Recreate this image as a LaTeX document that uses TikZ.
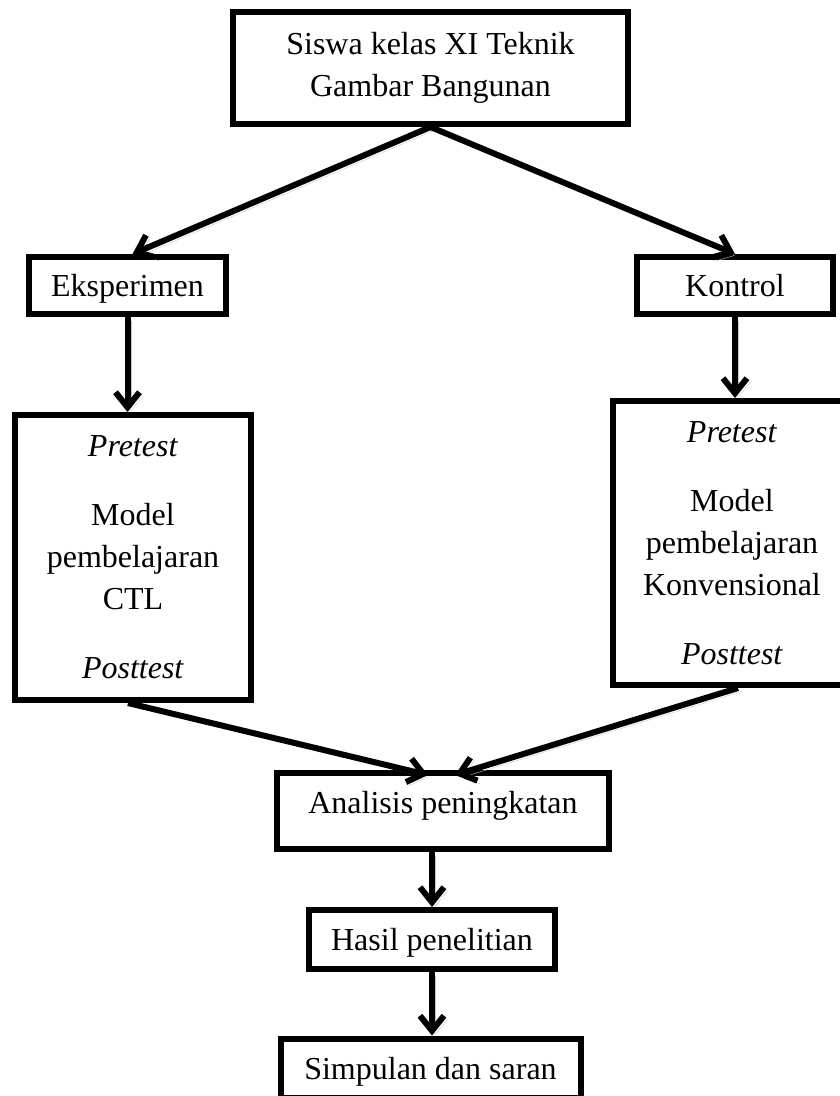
\documentclass[tikz,border=0pt]{standalone}
\usepackage{fontspec}
\setmainfont{Liberation Serif}
\usepackage{tikz}
\usetikzlibrary{arrows.meta}

\tikzset{
	kotak/.style={draw, line width=6pt, inner sep=0pt, align=center},
	satubaris/.style={kotak, text height=24pt, text depth=2pt},
	panah/.style={line width=6pt, -{Straight Barb[length=15pt,width=24pt]},
		preaction={draw=gray!45, transform canvas={shift={(3.5pt,-3.5pt)}}}},
}

\begin{document}
\begin{tikzpicture}[x=1pt, y=-1pt, font=\fontsize{32}{42}\selectfont]
	\useasboundingbox (0,0) rectangle (839,1096);
	%
	\node [kotak, minimum width=395pt, minimum height=112pt] (siswa) at (430.5,68) {Siswa kelas XI Teknik\\Gambar Bangunan};
	\node [satubaris, minimum width=197pt, minimum height=57pt] (eks) at (127.5,285.5) {Eksperimen};
	\node [satubaris, minimum width=196pt, minimum height=57pt] (kon) at (735,285.5) {Kontrol};
	\node [kotak, minimum width=236pt, minimum height=285pt] (ctl) at (133,557.5) {\textit{Pretest}\\[27pt]Model\\pembelajaran\\CTL\\[27pt]\textit{Posttest}};
	\node [kotak, minimum width=238pt, minimum height=284pt] (konv) at (732,543) {\textit{Pretest}\\[27pt]Model\\pembelajaran\\Konvensional\\[27pt]\textit{Posttest}};
	\node [kotak, minimum width=332pt, minimum height=76pt, text height=22pt, text depth=18pt] (ana) at (443,811) {Analisis peningkatan};
	\node [satubaris, minimum width=246pt, minimum height=59pt] (hasil) at (432,939.5) {Hasil penelitian};
	\node [satubaris, minimum width=300pt, minimum height=59pt] (simp) at (430.5,1068) {Simpulan dan saran};
	%
	\coordinate (masukkiri) at ([xshift=-15pt, yshift=-5pt]ana.north);
	\coordinate (masukkanan) at ([xshift=12pt, yshift=-5pt]ana.north);
	%
	\draw [panah] (siswa.south) -- ([xshift=5pt]eks.north);
	\draw [panah] (siswa.south) -- (kon.north);
	\draw [panah] (eks.south) -- (eks.south |- ctl.north);
	\draw [panah] (kon.south) -- (kon.south |- konv.north);
	\draw [panah] ([xshift=-5pt]ctl.south) -- (masukkiri);
	\draw [panah] ([xshift=6pt]konv.south) -- (masukkanan);
	\draw [panah] (ana.south -| hasil.north) -- (hasil.north);
	\draw [panah] (hasil.south) -- (hasil.south |- simp.north);
\end{tikzpicture}
\end{document}
